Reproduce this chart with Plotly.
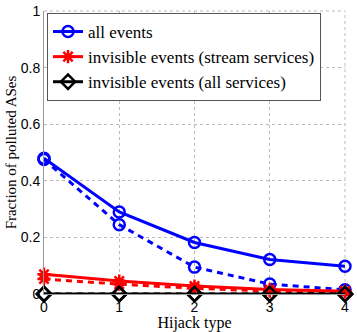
import plotly.graph_objects as go

hijack_type = [0, 1, 2, 3, 4]
all_events = [0.48, 0.29, 0.182, 0.122, 0.098]
all_events_dashed = [0.475, 0.245, 0.095, 0.035, 0.015]
invisible_stream = [0.07, 0.046, 0.028, 0.016, 0.01]
invisible_stream_dashed = [0.053, 0.035, 0.02, 0.01, 0.007]
invisible_all = [0, 0, 0, 0, 0]
invisible_all_dashed = [0, 0, 0, 0, 0]

names = ["all events", "invisible events (stream services)", "invisible events (all services)"]
colors = ["#0000ff", "#ff0000", "#000000"]
symbols = ["circle-open", "asterisk-open", "diamond-open"]
solid = [all_events, invisible_stream, invisible_all]
dashed = [all_events_dashed, invisible_stream_dashed, invisible_all_dashed]

SERIF = "Liberation Serif"
SANS = "Liberation Sans"

fig = go.Figure()
for n, c, s, yd in zip(names, colors, symbols, dashed):
    fig.add_trace(go.Scatter(x=hijack_type, y=yd, mode="lines+markers", showlegend=False,
                             cliponaxis=False,
                             line=dict(color=c, width=3, dash="6px,5px"),
                             marker=dict(symbol=s, size=11, color=c, line=dict(width=2.5, color=c))))
for n, c, s, ys in zip(names, colors, symbols, solid):
    fig.add_trace(go.Scatter(x=hijack_type, y=ys, mode="lines+markers", name=n,
                             cliponaxis=False,
                             line=dict(color=c, width=3),
                             marker=dict(symbol=s, size=11, color=c, line=dict(width=2.5, color=c))))

grid = "#bbbbbb"
fig.update_layout(
    width=357, height=332,
    margin=dict(l=44, r=12, t=11, b=38),
    plot_bgcolor="white", paper_bgcolor="white",
    font=dict(family=SERIF, size=15, color="black"),
    legend=dict(x=0.01, y=0.993, xanchor="left", yanchor="top",
                bgcolor="white", bordercolor="#555555", borderwidth=1,
                font=dict(family=SERIF, size=17, color="black"),
                tracegroupgap=0, itemwidth=30),
    xaxis=dict(range=[0, 4], tickvals=[0, 1, 2, 3, 4], showgrid=True,
               gridcolor=grid, griddash="dot", gridwidth=1,
               showline=True, linecolor="#999999", linewidth=1,
               ticks="", zeroline=False, automargin=False,
               tickfont=dict(family=SANS, size=14),
               title=dict(text="Hijack type", font=dict(family=SERIF, size=16), standoff=0)),
    yaxis=dict(range=[0, 1], tickvals=[0, 0.2, 0.4, 0.6, 0.8, 1],
               ticktext=["0", "0.2", "0.4", "0.6", "0.8", "1"], showgrid=True,
               gridcolor=grid, griddash="dot", gridwidth=1,
               showline=True, linecolor="#999999", linewidth=1,
               ticks="", zeroline=False, automargin=False,
               tickfont=dict(family=SANS, size=14),
               title=dict(text="Fraction of polluted ASes", font=dict(family=SERIF, size=15), standoff=0)),
    shapes=[
        dict(type="line", xref="paper", yref="paper", x0=0, x1=1, y0=1, y1=1,
             line=dict(color=grid, width=1, dash="dot"), layer="below"),
        dict(type="line", xref="paper", yref="paper", x0=1, x1=1, y0=0, y1=1,
             line=dict(color=grid, width=1, dash="dot"), layer="below"),
    ],
)
fig.write_html("out.html", config={"displayModeBar": False},
               post_script="document.body.style.margin='0px';document.body.style.overflow='hidden';")
